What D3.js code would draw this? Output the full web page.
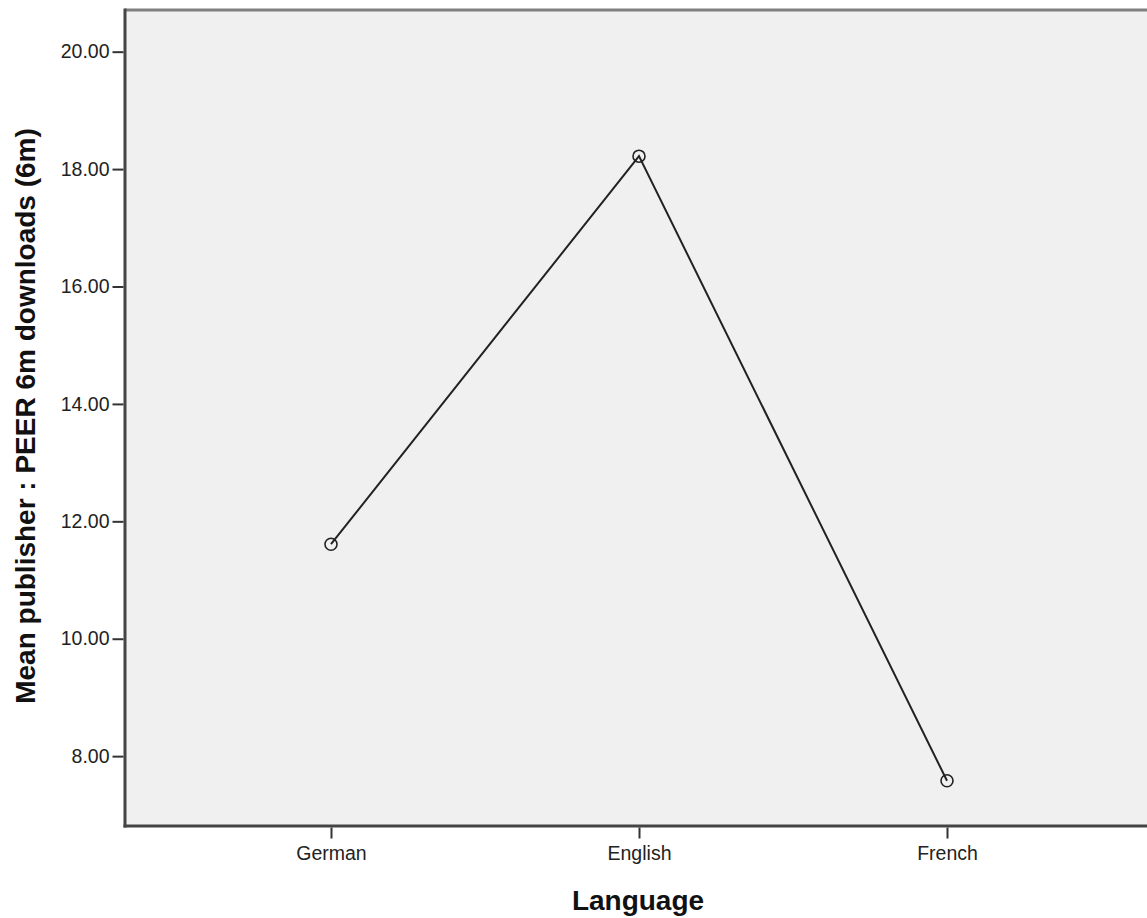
<!DOCTYPE html>
<html><head><meta charset="utf-8">
<script src="https://cdn.jsdelivr.net/npm/d3@7"></script>
<style>body{margin:0;background:#fff;} svg{display:block;}</style>
</head><body>
<script>
const categories = ["German", "English", "French"];
const values = [11.61, 18.22, 7.58];
const yTicks = [8, 10, 12, 14, 16, 18, 20];
const xTitle = "Language";
const yTitle = "Mean publisher : PEER 6m downloads (6m)";

const W = 1147, H = 918;
const L = 125, T = 10, R = 1153, B = 826;
const FONT = "Liberation Sans, Arial, sans-serif";
const svg = d3.select("body").append("svg").attr("width", W).attr("height", H);

const x = d3.scalePoint().domain(categories).range([L, R]).padding(0.6688);
const y = d3.scaleLinear().domain([6.81, 20.71]).range([B, T]);

svg.append("rect").attr("x", L).attr("y", T).attr("width", R - L).attr("height", B - T).attr("fill", "#f0f0f0");
// frame
svg.append("line").attr("x1", L).attr("x2", R).attr("y1", T).attr("y2", T).attr("stroke", "#808080").attr("stroke-width", 3);
svg.append("line").attr("x1", L).attr("x2", L).attr("y1", T - 1.5).attr("y2", B + 1.5).attr("stroke", "#444").attr("stroke-width", 3);
svg.append("line").attr("x1", L - 1.5).attr("x2", R).attr("y1", B).attr("y2", B).attr("stroke", "#444").attr("stroke-width", 3);

const yAxis = svg.append("g").attr("transform", `translate(${L - 1.5},0)`)
  .call(d3.axisLeft(y).tickValues(yTicks).tickFormat(d3.format(".2f")).tickSize(11).tickPadding(3));
yAxis.attr("font-size", null).attr("font-family", null);
yAxis.select(".domain").remove();
yAxis.selectAll("line").attr("stroke", "#333").attr("stroke-width", 2);
yAxis.selectAll("text").style("font-family", FONT).style("font-size", "19.5px").attr("fill", "#222");

const xAxis = svg.append("g").attr("transform", `translate(0,${B + 1.5})`)
  .call(d3.axisBottom(x).tickSize(11).tickPadding(8));
xAxis.attr("font-size", null).attr("font-family", null);
xAxis.select(".domain").remove();
xAxis.selectAll("line").attr("stroke", "#333").attr("stroke-width", 2);
xAxis.selectAll("text").style("font-family", FONT).style("font-size", "19.5px").attr("fill", "#222");

const data = categories.map((c, i) => ({c, v: values[i]}));
svg.append("path").datum(data)
  .attr("d", d3.line().x(d => x(d.c)).y(d => y(d.v)))
  .attr("fill", "none").attr("stroke", "#222").attr("stroke-width", 2);
svg.selectAll("circle.pt").data(data).enter().append("circle")
  .attr("cx", d => x(d.c)).attr("cy", d => y(d.v)).attr("r", 6)
  .attr("fill", "none").attr("stroke", "#222").attr("stroke-width", 1.6);

svg.append("text").attr("x", 638).attr("y", 910).attr("text-anchor", "middle")
  .style("font-family", FONT).style("font-weight", "bold").style("font-size", "28px")
  .attr("fill", "#111").text(xTitle);
svg.append("text").attr("transform", "translate(35,416) rotate(-90)").attr("text-anchor", "middle")
  .style("font-family", FONT).style("font-weight", "bold").style("font-size", "28px")
  .attr("fill", "#111").text(yTitle);
</script>
</body></html>
